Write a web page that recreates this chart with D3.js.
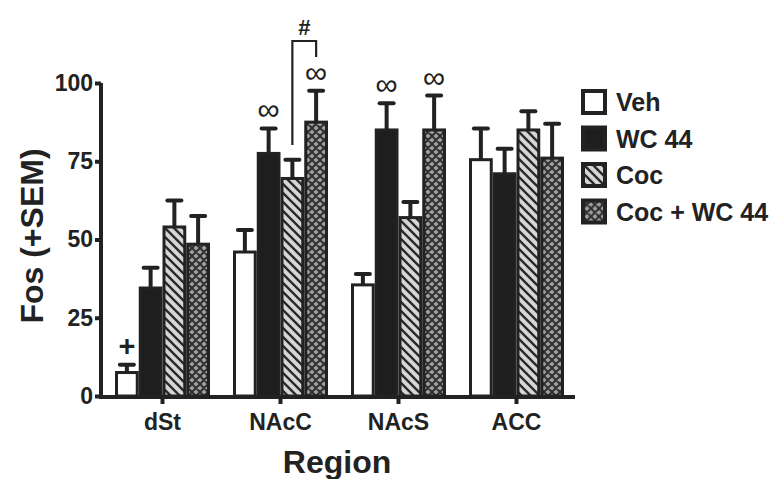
<html>
<head>
  <script src="https://cdnjs.cloudflare.com/ajax/libs/d3/7.8.5/d3.min.js"></script>
  <style>
    body { margin: 0; background: #fff; font-family: "Liberation Sans", Arial, sans-serif; }
    text { font-weight: bold; fill: #222; }
  </style>
</head>
<body>
  <div id="chart"></div>
  <script>
    // data
    var regions = ["dSt", "NAcC", "NAcS", "ACC"];
    var groups = ["Veh", "WC 44", "Coc", "Coc + WC 44"];
    var vehMean = [7.5, 46, 35.5, 75.5];
    var vehSem = [2.5, 7, 3.5, 10];
    var wcMean = [34.5, 77.5, 85, 71];
    var wcSem = [6.5, 8, 8.5, 8];
    var cocMean = [54, 69.5, 57, 85];
    var cocSem = [8.5, 6, 5, 6];
    var comboMean = [48.5, 87.5, 85, 76];
    var comboSem = [9, 10, 11, 11];
    var yTicks = [0, 25, 50, 75, 100];
    // significance marks: [region, group, symbol]
    var marks = [["dSt", "Veh", "+"], ["NAcC", "WC 44", "\u221e"], ["NAcC", "Coc + WC 44", "\u221e"],
                 ["NAcS", "WC 44", "\u221e"], ["NAcS", "Coc + WC 44", "\u221e"]];

    var means = [vehMean, wcMean, cocMean, comboMean];
    var sems = [vehSem, wcSem, cocSem, comboSem];
    var fills = ["#fff", "#1e1e1e", "url(#diag)", "url(#cross)"];

    var data = [];
    regions.forEach(function(r, i) {
      groups.forEach(function(g, j) {
        data.push({ region: r, group: g, mean: means[j][i], sem: sems[j][i] });
      });
    });

    var svg = d3.select("#chart").append("svg")
      .attr("width", 775).attr("height", 479);

    var defs = svg.append("defs");
    var p1 = defs.append("pattern").attr("id", "diag")
      .attr("patternUnits", "userSpaceOnUse").attr("width", 9).attr("height", 9);
    p1.append("rect").attr("width", 9).attr("height", 9).attr("fill", "#d6d6d6");
    p1.append("path").attr("d", "M-3,6 L3,12 M0,0 L9,9 M6,-3 L12,3")
      .attr("stroke", "#2a2a2a").attr("stroke-width", 2.4);
    var p2 = defs.append("pattern").attr("id", "cross")
      .attr("patternUnits", "userSpaceOnUse").attr("width", 8).attr("height", 8);
    p2.append("rect").attr("width", 8).attr("height", 8).attr("fill", "#a0a0a0");
    p2.append("path").attr("d", "M0,0 L8,8 M8,0 L0,8 M-2,6 L2,10 M6,-2 L10,2 M-2,2 L2,-2 M6,10 L10,6")
      .attr("stroke", "#2e2e2e").attr("stroke-width", 2);

    var y = d3.scaleLinear().domain([0, 100]).range([396, 83]);
    var x0 = d3.scalePoint().domain(regions).range([162, 516]);
    var x1 = d3.scaleBand().domain(groups).range([-47, 48]);

    // error bars
    var eb = svg.append("g").selectAll("g").data(data).enter().append("g")
      .attr("stroke", "#222").attr("stroke-width", 4);
    eb.append("line")
      .attr("x1", function(d) { return x0(d.region) + x1(d.group) + x1.bandwidth() / 2; })
      .attr("x2", function(d) { return x0(d.region) + x1(d.group) + x1.bandwidth() / 2; })
      .attr("y1", function(d) { return y(d.mean); })
      .attr("y2", function(d) { return y(d.mean + d.sem); });
    eb.append("line").attr("stroke-linecap", "round")
      .attr("x1", function(d) { return x0(d.region) + x1(d.group) + x1.bandwidth() / 2 - 7; })
      .attr("x2", function(d) { return x0(d.region) + x1(d.group) + x1.bandwidth() / 2 + 7; })
      .attr("y1", function(d) { return y(d.mean + d.sem); })
      .attr("y2", function(d) { return y(d.mean + d.sem); });

    // bars
    svg.append("g").selectAll("rect").data(data).enter().append("rect")
      .attr("x", function(d) { return x0(d.region) + x1(d.group) + 1.5; })
      .attr("width", x1.bandwidth() - 3)
      .attr("y", function(d) { return y(d.mean); })
      .attr("height", function(d) { return y(0) - y(d.mean); })
      .attr("fill", function(d) { return fills[groups.indexOf(d.group)]; })
      .attr("stroke", "#222").attr("stroke-width", 3);

    // axes
    var yAxis = svg.append("g").attr("transform", "translate(101,0)")
      .call(d3.axisLeft(y).tickValues(yTicks).tickSize(6).tickPadding(2));
    var xAxis = svg.append("g").attr("transform", "translate(0,397)")
      .call(d3.axisBottom(x0).tickSize(7).tickPadding(5));
    xAxis.select(".domain").attr("d", "M99,0H575");
    [yAxis, xAxis].forEach(function(a) {
      a.selectAll(".domain, line").attr("stroke", "#222").attr("stroke-width", 4);
      a.selectAll("text").style("font-size", "23px").style("font-family", "'Liberation Sans', Arial, sans-serif")
        .attr("fill", "#222").style("font-weight", "bold");
    });
    yAxis.select(".domain").attr("d", "M0," + y(100) + "V" + (y(0) + 2));
    xAxis.selectAll("text").attr("dy", "0.9em");

    // significance marks
    svg.append("g").selectAll("text").data(marks).enter().append("text")
      .attr("x", function(d) { return x0(d[0]) + x1(d[1]) + x1.bandwidth() / 2; })
      .attr("y", function(d) {
        var m = data.find(function(e) { return e.region === d[0] && e.group === d[1]; });
        return y(m.mean + m.sem) - (d[2] === "+" ? 9 : 8);
      })
      .attr("text-anchor", "middle")
      .style("font-size", function(d) { return d[2] === "+" ? "29px" : "31px"; })
      .style("font-weight", function(d) { return d[2] === "+" ? "bold" : "normal"; })
      .text(function(d) { return d[2]; });

    // bracket between NAcC Coc and Coc + WC 44
    var bx1 = x0("NAcC") + x1("Coc") + x1.bandwidth() / 2;
    var bx2 = x0("NAcC") + x1("Coc + WC 44") + x1.bandwidth() / 2;
    svg.append("path")
      .attr("d", "M" + bx1 + "," + (y(77) - 10) + "V41H" + bx2 + "V57")
      .attr("fill", "none").attr("stroke", "#222").attr("stroke-width", 2.2);
    svg.append("text").attr("x", (bx1 + bx2) / 2).attr("y", 35)
      .attr("text-anchor", "middle").style("font-size", "22px").text("#");

    // axis titles
    svg.append("text").attr("transform", "translate(43,236) rotate(-90)")
      .attr("text-anchor", "middle").style("font-size", "32px").text("Fos (+SEM)");
    svg.append("text").attr("x", 337).attr("y", 473)
      .attr("text-anchor", "middle").style("font-size", "32px").text("Region");

    // legend
    var lg = svg.append("g").selectAll("g").data(groups).enter().append("g")
      .attr("transform", function(d, i) { return "translate(583," + (91 + i * 36.5) + ")"; });
    lg.append("rect").attr("width", 22).attr("height", 22)
      .attr("fill", function(d, i) { return fills[i]; })
      .attr("stroke", "#222").attr("stroke-width", 4);
    lg.append("text").attr("x", 33).attr("y", 20).style("font-size", "25px")
      .text(function(d) { return d; });
  </script>
</body>
</html>
